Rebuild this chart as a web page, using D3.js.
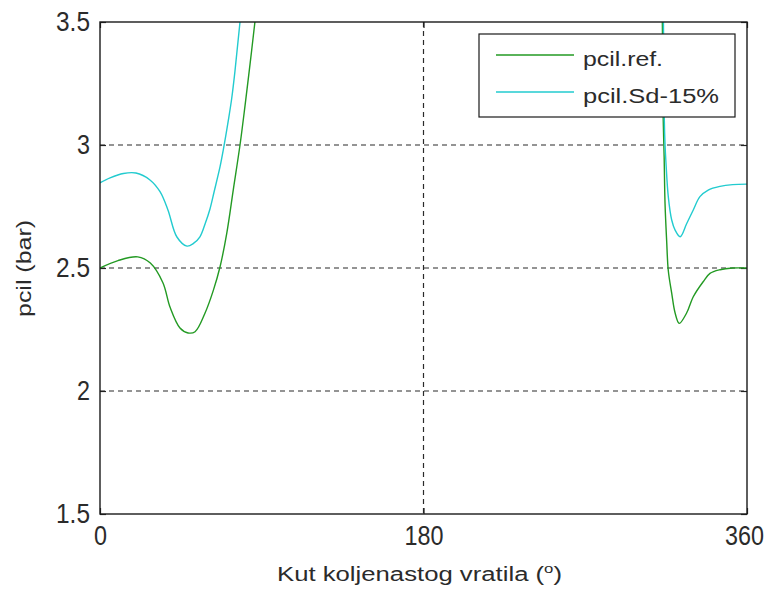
<!DOCTYPE html>
<html>
<head>
<meta charset="utf-8">
<script src="https://cdn.jsdelivr.net/npm/d3@7"></script>
<style>
  html, body { margin: 0; padding: 0; background: #ffffff; }
  svg { display: block; }
  text { font-family: "Liberation Sans", Arial, sans-serif; fill: #2b2b2b; }
</style>
</head>
<body>
<svg id="chart" width="769" height="596"></svg>
<script>
// ---- data ----
const xTicks = [0, 180, 360];
const yTicks = [1.5, 2, 2.5, 3, 3.5];
const xGrid = [180];
const yGrid = [2, 2.5, 3];

const seriesNames = ["pcil.ref.", "pcil.Sd-15%"];
const seriesColors = ["#239a23", "#22cbcf"];

// pcil.ref. (crank angle in degrees, pressure in bar)
const refAngle = [0, 10, 21, 28, 35, 39, 44.5, 49, 52.9, 58.4, 63.1, 66.8, 70.5, 74.2, 77.9, 80.7, 83.5, 86.2, 92, 110, 180,
                  300, 312, 312.9, 313.4, 313.9, 314.4, 315.3, 316.2, 318.1, 320.0, 322.3, 326.4, 330.1, 335.6, 339.4, 345, 352, 360];
const refP     = [2.50, 2.53, 2.545, 2.52, 2.44, 2.34, 2.256, 2.236, 2.241, 2.316, 2.41, 2.505, 2.64, 2.82, 3.00, 3.16, 3.33, 3.50, 3.9, 6.0, 15.0,
                  8.0, 4.0, 3.50, 3.10, 2.95, 2.76, 2.61, 2.49, 2.398, 2.317, 2.275, 2.317, 2.383, 2.444, 2.478, 2.493, 2.50, 2.50];

// pcil.Sd-15%
const sdAngle = [0, 5.6, 13, 20, 27.8, 33.4, 37.8, 42.8, 48.4, 52, 55.6, 58.5, 61.2, 63.5, 66.8, 68.6, 71.4, 73.3, 75.1, 77.9, 82, 100, 180,
                 300, 312, 313.5, 314.0, 314.4, 314.9, 316.2, 318.1, 320.0, 322.8, 326.4, 330.1, 333.8, 338.4, 345, 352, 360];
const sdP     = [2.846, 2.866, 2.884, 2.886, 2.858, 2.81, 2.736, 2.626, 2.589, 2.600, 2.627, 2.68, 2.74, 2.81, 2.912, 2.98, 3.10, 3.19, 3.30, 3.50, 3.8, 5.5, 14.0,
                 7.0, 4.5, 3.50, 3.10, 3.00, 2.93, 2.79, 2.695, 2.654, 2.627, 2.68, 2.736, 2.79, 2.817, 2.832, 2.839, 2.841];

const xLabel = "Kut koljenastog vratila (";
const xLabelSup = "o";
const xLabelEnd = ")";
const yLabel = "pcil (bar)";

// ---- layout ----
const W = 769, H = 596;
const L = 100, R = 747, T = 22, B = 514;

const svg = d3.select("#chart");
const x = d3.scaleLinear().domain([0, 360]).range([L, R]);
const y = d3.scaleLinear().domain([1.5, 3.5]).range([B, T]);

svg.append("rect").attr("x", 0).attr("y", 0).attr("width", W).attr("height", H).attr("fill", "#fff");

svg.append("defs").append("clipPath").attr("id", "plotclip")
  .append("rect").attr("x", L).attr("y", T).attr("width", R - L).attr("height", B - T);

// grid
const grid = svg.append("g");
grid.selectAll("line.gy").data(yGrid).enter().append("line")
  .attr("x1", L).attr("x2", R).attr("y1", d => y(d)).attr("y2", d => y(d))
  .attr("stroke", "#2a2a2a").attr("stroke-width", 1.2).attr("stroke-dasharray", "5,4");
grid.selectAll("line.gx").data(xGrid).enter().append("line")
  .attr("x1", d => x(d)).attr("x2", d => x(d)).attr("y1", T).attr("y2", B)
  .attr("stroke", "#2a2a2a").attr("stroke-width", 1.2).attr("stroke-dasharray", "5,4");

// axes (ticks inward)
function styleAxis(g) {
  g.select(".domain").remove();
  g.selectAll(".tick line").attr("stroke", "#222").attr("stroke-width", 1.2);
}
function fitTick(sel) {
  sel.selectAll(".tick text")
    .attr("font-size", 27)
    .attr("fill", "#2b2b2b")
    .attr("lengthAdjust", "spacingAndGlyphs")
    .attr("textLength", function () {
      const s = d3.select(this).text();
      const digits = s.replace(/[^0-9]/g, "").length;
      const dots = s.length - digits;
      return digits * 13 + dots * 8;
    });
}
const fmt = d => String(d);

svg.append("g").attr("transform", `translate(${L},0)`)
  .call(d3.axisLeft(y).tickValues(yTicks).tickSize(-6).tickPadding(10).tickFormat(fmt))
  .call(styleAxis).call(fitTick);
svg.append("g").attr("transform", `translate(${R},0)`)
  .call(d3.axisRight(y).tickValues(yTicks).tickSize(-6).tickFormat(""))
  .call(styleAxis);
const xAxisG = svg.append("g").attr("transform", `translate(0,${B})`)
  .call(d3.axisBottom(x).tickValues(xTicks).tickSize(-6).tickPadding(12).tickFormat(fmt))
  .call(styleAxis).call(fitTick);
xAxisG.selectAll(".tick text").filter(d => d === 360).attr("dx", -3);
svg.append("g").attr("transform", `translate(0,${T})`)
  .call(d3.axisTop(x).tickValues(xTicks).tickSize(-6).tickFormat(""))
  .call(styleAxis);

// lines
const line = d3.line().x(d => x(d[0])).y(d => y(d[1])).curve(d3.curveCatmullRom.alpha(0.5));
const series = [
  d3.zip(refAngle, refP),
  d3.zip(sdAngle, sdP)
];
const plot = svg.append("g").attr("clip-path", "url(#plotclip)");
series.forEach((s, i) => {
  plot.append("path").datum(s)
    .attr("d", line)
    .attr("fill", "none")
    .attr("stroke", seriesColors[i])
    .attr("stroke-width", 1.4);
});

// frame
svg.append("rect").attr("x", L).attr("y", T).attr("width", R - L).attr("height", B - T)
  .attr("fill", "none").attr("stroke", "#1a1a1a").attr("stroke-width", 1.4);

// legend
const lg = svg.append("g");
lg.append("rect").attr("x", 479).attr("y", 34).attr("width", 256).attr("height", 83)
  .attr("fill", "#fff").attr("stroke", "#1a1a1a").attr("stroke-width", 1.2);
const legRowsY = [55, 92];
const legTextLen = [80, 136];
seriesNames.forEach((name, i) => {
  lg.append("line").attr("x1", 496).attr("x2", 574)
    .attr("y1", legRowsY[i]).attr("y2", legRowsY[i])
    .attr("stroke", seriesColors[i]).attr("stroke-width", 1.4);
  lg.append("text").attr("x", 583).attr("y", legRowsY[i] + 11)
    .attr("font-size", 20)
    .attr("lengthAdjust", "spacingAndGlyphs")
    .attr("textLength", legTextLen[i])
    .text(name);
});

// axis titles
const xt = svg.append("text").attr("x", 277).attr("y", 581)
  .attr("font-size", 20)
  .attr("lengthAdjust", "spacingAndGlyphs")
  .attr("textLength", 285);
xt.append("tspan").text(xLabel);
xt.append("tspan").attr("font-size", 13).attr("dy", -8).text(xLabelSup);
xt.append("tspan").attr("dy", 8).text(xLabelEnd);

svg.append("text")
  .attr("transform", "translate(31,268.5) rotate(-90)")
  .attr("text-anchor", "middle")
  .attr("font-size", 20)
  .attr("lengthAdjust", "spacingAndGlyphs")
  .attr("textLength", 97)
  .text(yLabel);
</script>
</body>
</html>
